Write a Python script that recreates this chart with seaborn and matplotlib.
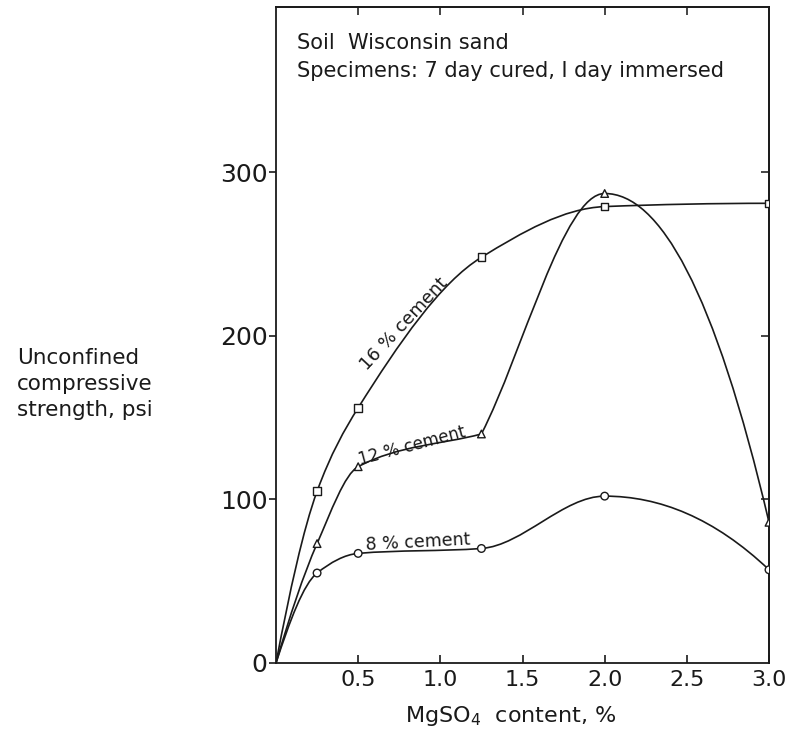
import numpy as np
import matplotlib
matplotlib.use("Agg")
import matplotlib.pyplot as plt
from matplotlib.path import Path
from matplotlib.patches import PathPatch
import pandas as pd
import seaborn as sns

# MgSO4 content (%) and unconfined compressive strength (psi)
mgso4 = [0.0, 0.25, 0.5, 1.25, 2.0, 3.0]
cement_16 = [0, 105, 156, 248, 279, 281]
cement_12 = [0, 73, 120, 140, 287, 86]
cement_8 = [0, 55, 67, 70, 102, 57]

series_names = ["16 % cement", "12 % cement", "8 % cement"]
x_ticks = [0.5, 1.0, 1.5, 2.0, 2.5, 3.0]
x_ticklabels = ["0.5", "1.0", "1.5", "2.0", "2.5", "3.0"]
y_ticks = [0, 100, 200, 300]


def pchip_slopes(x, y):
    # monotone (Fritsch-Carlson) tangents, used to shape the drawn curve
    x = np.asarray(x, float)
    y = np.asarray(y, float)
    h = np.diff(x)
    d = np.diff(y) / h
    m = np.zeros_like(y)
    for k in range(1, len(x) - 1):
        if d[k - 1] * d[k] <= 0:
            m[k] = 0
        else:
            w1 = 2 * h[k] + h[k - 1]
            w2 = h[k] + 2 * h[k - 1]
            m[k] = (w1 + w2) / (w1 / d[k - 1] + w2 / d[k])

    def end(h0, h1, d0, d1):
        s = ((2 * h0 + h1) * d0 - h0 * d1) / (h0 + h1)
        if np.sign(s) != np.sign(d0):
            s = 0
        elif np.sign(d0) != np.sign(d1) and abs(s) > abs(3 * d0):
            s = 3 * d0
        return s

    m[0] = end(h[0], h[1], d[0], d[1])
    m[-1] = end(h[-1], h[-2], d[-1], d[-2])
    return m, d


def curve_path(x, y, corners=()):
    # cubic Bezier through the measured points; "corners" are drawn with a kink
    m, d = pchip_slopes(x, y)
    m_in = m.copy()
    m_out = m.copy()
    for k in corners:
        m_in[k] = d[k - 1]
        m_out[k] = d[k]
    verts = [(x[0], y[0])]
    codes = [Path.MOVETO]
    for k in range(len(x) - 1):
        hk = x[k + 1] - x[k]
        verts += [(x[k] + hk / 3, y[k] + m_out[k] * hk / 3),
                  (x[k + 1] - hk / 3, y[k + 1] - m_in[k + 1] * hk / 3),
                  (x[k + 1], y[k + 1])]
        codes += [Path.CURVE4] * 3
    return Path(verts, codes)


sns.set_theme(style="ticks")
plt.rcParams["font.family"] = ["DejaVu Sans"]
plt.rcParams["text.color"] = "#1a1a1a"

fig = plt.figure(figsize=(8.01, 7.30), dpi=100)
ax = fig.add_axes([276 / 801, 67 / 730, 493 / 801, 656 / 730])

curves = [(cement_16, ()), (cement_12, (3,)), (cement_8, ())]
for vals, kinks in curves:
    patch = PathPatch(curve_path(mgso4, vals, kinks), facecolor="none",
                      edgecolor="#1a1a1a", lw=1.2, zorder=2)
    ax.add_patch(patch)

# markers (not at the origin)
rows = []
for name, vals in zip(series_names, [cement_16, cement_12, cement_8]):
    for xv, yv in zip(mgso4, vals):
        if xv > 0:
            rows.append({"mgso4": xv, "strength": yv, "series": name})
pts = pd.DataFrame(rows)
sns.scatterplot(data=pts, x="mgso4", y="strength", style="series",
                markers={"16 % cement": "s", "12 % cement": "^", "8 % cement": "o"},
                color="white", edgecolor="#1a1a1a", linewidth=1.0, s=30,
                legend=False, zorder=3, ax=ax)

ax.set_xlim(0, 3.0)
ax.set_ylim(0, 401)
ax.set_xticks(x_ticks)
ax.set_xticklabels(x_ticklabels)
ax.set_yticks(y_ticks)
ax.set_xlabel("")
ax.set_ylabel("")
for s in ax.spines.values():
    s.set_visible(True)
    s.set_linewidth(1.3)
    s.set_color("#1a1a1a")
ax.tick_params(axis="x", direction="in", length=6, width=1.2, pad=5,
               labelsize=16, colors="#1a1a1a")
ax.tick_params(axis="y", direction="out", length=5, width=1.2, pad=1,
               labelsize=18, colors="#1a1a1a")

top = ax.secondary_xaxis("top")
top.set_xticks(x_ticks[:-1], labels=[""] * 5)
top.tick_params(direction="in", length=6, width=1.2)
right = ax.secondary_yaxis("right")
right.set_yticks(y_ticks[1:], labels=[""] * 3)
right.tick_params(direction="in", length=6, width=1.2)

# curve labels
ax.text(0.78, 207, "16 % cement", rotation=47, rotation_mode="anchor",
        ha="center", va="center", fontsize=13)
ax.text(0.83, 133, "12 % cement", rotation=15, rotation_mode="anchor",
        ha="center", va="center", fontsize=12)
ax.text(0.865, 74, "8 % cement", rotation=3, rotation_mode="anchor",
        ha="center", va="center", fontsize=12.5)

ax.text(0.043, 0.945, "Soil  Wisconsin sand", transform=ax.transAxes,
        ha="left", va="center", fontsize=15)
ax.text(0.043, 0.903, "Specimens: 7 day cured, I day immersed",
        transform=ax.transAxes, ha="left", va="center", fontsize=15)

fig.text(17 / 801, 1 - 384 / 730, "Unconfined\ncompressive\nstrength, psi",
         ha="left", va="center", fontsize=15.5, linespacing=1.4)
fig.text(511 / 801, 1 - 716 / 730, "MgSO$_4$  content, %",
         ha="center", va="center", fontsize=16)

fig.savefig("out.png", dpi=100)
